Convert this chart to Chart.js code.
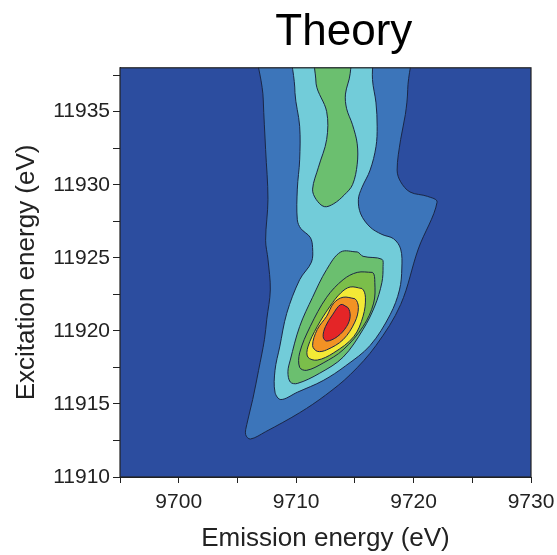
<!DOCTYPE html>
<html>
<head>
<meta charset="utf-8">
<script src="https://cdn.jsdelivr.net/npm/chart.js@4/dist/chart.umd.min.js"></script>
<style>
html, body { margin: 0; padding: 0; background: #fff; }
</style>
</head>
<body>
<canvas id="chart" width="557" height="555"></canvas>
<script>
// contour outlines, [emission eV, excitation eV], outermost level first
const level1 = [[9707.0,11942],[9707.2,11935.8],[9707.4,11932.4],[9707.6,11929.0],[9707.4,11926.2],[9707.6,11924.9],[9707.8,11922.8],[9707.5,11920.8],[9707.3,11919.4],[9706.8,11917.3],[9706.3,11915.3],[9705.8,11913.6],[9705.7,11912.9],[9706.1,11912.6],[9707.4,11913.1],[9710.3,11914.4],[9712.5,11915.6],[9714.6,11917.0],[9716.8,11919.0],[9718.9,11921.8],[9720.4,11925.6],[9722.0,11928.8],[9721.2,11929.2],[9719.7,11929.5],[9718.9,11930.2],[9718.6,11931.0],[9718.9,11933.1],[9719.3,11934.8],[9719.5,11936.5],[9719.5,11942]];
const level2 = [[9709.8,11942],[9709.9,11936.3],[9710.3,11934.0],[9710.3,11931.7],[9710.1,11929.7],[9710.1,11927.6],[9710.4,11927.0],[9711.2,11926.4],[9711.4,11925.7],[9711.3,11924.7],[9710.3,11923.5],[9709.2,11921.2],[9708.6,11918.9],[9708.2,11917.3],[9708.2,11915.8],[9708.7,11915.3],[9710.1,11915.8],[9712.3,11916.6],[9714.2,11917.6],[9716.3,11919.0],[9718.0,11921.1],[9718.8,11922.8],[9719.0,11924.3],[9718.9,11925.6],[9718.3,11926.3],[9717.3,11926.6],[9716.3,11927.1],[9715.5,11928.0],[9715.3,11929.0],[9715.6,11929.8],[9716.3,11931.0],[9716.8,11932.6],[9716.9,11934.0],[9716.8,11935.6],[9716.5,11937.2],[9716.3,11942]];
const level3top = [[9711.4,11942],[9711.7,11936.9],[9712.6,11935.0],[9712.6,11933.1],[9711.9,11931.2],[9711.4,11929.7],[9711.7,11929.0],[9712.4,11928.5],[9713.2,11928.7],[9714.1,11929.3],[9714.8,11930.0],[9715.2,11931.4],[9715.2,11932.8],[9714.8,11934.1],[9714.3,11935.2],[9714.2,11936.2],[9714.6,11937.6],[9714.9,11942]];
const level3 = [[9713.8,11925.4],[9715.2,11925.4],[9715.7,11925.1],[9717.3,11924.9],[9717.4,11924.4],[9717.3,11923.3],[9716.7,11921.7],[9715.7,11920.1],[9714.0,11918.2],[9712.0,11917.1],[9710.1,11916.4],[9709.5,11916.5],[9709.3,11917.2],[9709.5,11918.0],[9710.3,11920.3],[9711.4,11922.3],[9712.6,11924.2]];
const level4 = [[9715.2,11924.0],[9716.5,11924.0],[9716.7,11923.3],[9716.6,11921.9],[9715.7,11920.3],[9714.0,11918.7],[9712.3,11917.8],[9710.9,11917.3],[9710.3,11917.5],[9710.3,11918.5],[9711.2,11920.3],[9712.6,11922.3],[9714.0,11923.5]];
const level5 = [[9714.6,11923.0],[9715.6,11922.9],[9715.9,11922.3],[9715.7,11921.0],[9714.9,11919.6],[9713.2,11918.5],[9711.8,11918.0],[9711.0,11918.2],[9711.0,11918.9],[9711.8,11920.3],[9712.9,11921.7],[9713.8,11922.6]];
const level6 = [[9714.0,11922.3],[9715.0,11922.2],[9715.3,11921.6],[9715.0,11920.6],[9714.0,11919.4],[9712.6,11918.7],[9711.8,11918.6],[9711.4,11919.0],[9711.8,11920.1],[9712.6,11921.0],[9713.2,11921.9]];
const level7 = [[9713.8,11921.8],[9714.4,11921.6],[9714.6,11921.0],[9714.3,11920.3],[9713.5,11919.6],[9712.6,11919.3],[9712.3,11919.6],[9712.5,11920.3],[9713.1,11921.1]];

const xLabels = [9700, 9710, 9720, 9730];
const yLabels = [11910, 11915, 11920, 11925, 11930, 11935];

const levels = [level1, level2, level3top, level3, level4, level5, level6, level7];
const colors = ['#3C75BA', '#72CCD9', '#6BBF6F', '#6BBF6F', '#7BBE4A', '#F3E936', '#F29224', '#E42527'];
const FONT = 'Liberation Sans, Arial, sans-serif';

// closed ring: repeat first two points so the spline closes smoothly
function ring(pts) {
    const d = pts.map(p => ({x: p[0], y: p[1]}));
    return d.concat([d[0], d[1]]);
}

const datasets = levels.map((pts, i) => ({
    data: ring(pts),
    backgroundColor: colors[i],
    borderColor: '#1B2746',
    borderWidth: 1,
    fill: 'shape',
    pointRadius: 0,
    tension: 0.35,
    segment: {
        borderColor: c => c.p0DataIndex === 0 ? 'rgba(0,0,0,0)' : undefined
    }
})).reverse(); // first dataset is drawn on top

const plotFrame = {
    id: 'plotFrame',
    beforeDatasetsDraw(chart) {
        const {ctx, chartArea: a} = chart;
        ctx.save();
        ctx.fillStyle = '#2C4D9F';
        ctx.fillRect(a.left, a.top, a.width, a.height);
        ctx.restore();
    },
    afterDatasetsDraw(chart) {
        const {ctx, chartArea: a} = chart;
        ctx.save();
        ctx.strokeStyle = '#222';
        ctx.lineWidth = 1.2;
        ctx.strokeRect(a.left, a.top, a.width, a.height);
        ctx.restore();
    }
};

const near = (v, list) => list.some(t => Math.abs(t - v) < 1e-6);

new Chart(document.getElementById('chart'), {
    type: 'line',
    data: { datasets: datasets },
    plugins: [plotFrame],
    options: {
        responsive: false,
        animation: false,
        events: [],
        layout: { padding: 0 },
        plugins: {
            legend: { display: false },
            tooltip: { enabled: false },
            title: {
                display: true,
                fullSize: false,
                text: '   Theory',
                color: '#000',
                font: { family: FONT, size: 44, weight: 'normal' },
                padding: { top: 6, bottom: 9 }
            }
        },
        scales: {
            x: {
                type: 'linear',
                min: 9695,
                max: 9730,
                afterFit: s => { s.height = 78; s.paddingRight = 26; s.paddingLeft = 0; },
                ticks: {
                    stepSize: 5,
                    autoSkip: false,
                    maxRotation: 0,
                    padding: 7,
                    color: '#222',
                    font: { family: FONT, size: 21 },
                    callback: v => near(v, xLabels) ? String(v) : ''
                },
                grid: { drawOnChartArea: false, tickLength: 6, tickColor: '#222' },
                border: { color: '#222' },
                title: {
                    display: true,
                    text: 'Emission energy (eV)',
                    color: '#222',
                    font: { family: FONT, size: 26 },
                    padding: { top: 0, bottom: 1 }
                }
            },
            y: {
                type: 'linear',
                min: 11910,
                max: 11938,
                afterFit: s => { s.width = 120; },
                ticks: {
                    stepSize: 2.5,
                    includeBounds: false,
                    autoSkip: false,
                    padding: 3,
                    color: '#222',
                    font: { family: FONT, size: 21 },
                    callback: v => near(v, yLabels) ? String(v) : ''
                },
                grid: { drawOnChartArea: false, tickLength: 7, tickColor: '#222' },
                border: { color: '#222' },
                title: {
                    display: true,
                    text: 'Excitation energy (eV)',
                    color: '#222',
                    font: { family: FONT, size: 26 },
                    padding: { top: 11, bottom: 0 }
                }
            }
        }
    }
});
</script>
</body>
</html>
